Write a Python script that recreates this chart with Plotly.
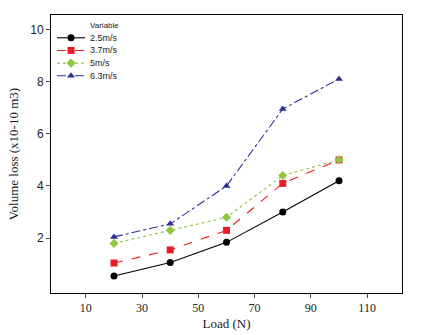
import plotly.graph_objects as go

load = [20, 40, 60, 80, 100]
names = ["2.5m/s", "3.7m/s", "5m/s", "6.3m/s"]
v25 = [0.55, 1.07, 1.84, 3.0, 4.2]
v37 = [1.05, 1.55, 2.3, 4.1, 5.0]
v5 = [1.8, 2.3, 2.8, 4.4, 5.0]
v63 = [2.05, 2.55, 4.0, 6.95, 8.1]
x_ticks = [10, 30, 50, 70, 90, 110]
y_ticks = [2, 4, 6, 8, 10]

series = [v25, v37, v5, v63]
colors = ["#000000", "#ed1c24", "#8dc63f", "#2e3192"]
dashes = ["solid", "dash", "dot", "dashdot"]
symbols = ["circle", "square", "diamond", "triangle-up"]

fig = go.Figure()
for n, v, c, d, s in zip(names, series, colors, dashes, symbols):
    fig.add_trace(go.Scatter(x=load, y=v, name=n, mode="lines+markers",
                             line=dict(color=c, dash=d, width=1.1),
                             marker=dict(symbol=s, size=7, color=c),
                             showlegend=False))

# compact manual legend (in plot-area fractions)
leg_x0, leg_x1, leg_txt = 0.017, 0.097, 0.105
leg_top, leg_step, title_y = 0.918, 0.0455, 0.962
for i, (n, c, d, s) in enumerate(zip(names, colors, dashes, symbols)):
    yy = leg_top - i * leg_step
    fig.add_shape(type="line", xref="paper", yref="paper", x0=leg_x0, x1=leg_x1,
                  y0=yy, y1=yy, line=dict(color=c, dash=d, width=1.1))
    fig.add_trace(go.Scatter(x=[(leg_x0 + leg_x1) / 2], y=[yy], xaxis="x2", yaxis="y2",
                             mode="markers", marker=dict(symbol=s, size=7, color=c),
                             showlegend=False, hoverinfo="skip"))
    fig.add_annotation(x=leg_txt, y=yy, xref="paper", yref="paper", text=n,
                       showarrow=False, xanchor="left", yanchor="middle",
                       font=dict(size=9, family="Liberation Sans", color="#222"))
fig.add_annotation(x=leg_txt, y=title_y, xref="paper", yref="paper", text="Variable",
                   showarrow=False, xanchor="left", yanchor="middle",
                   font=dict(size=8, family="Liberation Sans", color="#222"))

fig.update_layout(
    width=429, height=335,
    margin=dict(l=51, r=27, t=15, b=42),
    plot_bgcolor="white", paper_bgcolor="white",
    showlegend=False,
    xaxis=dict(range=[-2.4, 122.4], tickvals=x_ticks, ticks="outside", ticklen=4,
               showgrid=False, zeroline=False, showline=True, linecolor="black",
               linewidth=1, mirror=True, automargin=False,
               tickfont=dict(family="Liberation Serif", size=12, color="#222"),
               title=dict(text="Load (N)", font=dict(family="Liberation Serif", size=13, color="#222"),
                          standoff=4)),
    yaxis=dict(range=[-0.1, 10.55], tickvals=y_ticks, ticks="outside", ticklen=4,
               showgrid=False, zeroline=False, showline=True, linecolor="black",
               linewidth=1, mirror=True, automargin=False,
               tickfont=dict(family="Liberation Sans", size=12, color="#222"),
               title=dict(text="Volume loss (x10-10 m3)",
                          font=dict(family="Liberation Serif", size=13, color="#222"),
                          standoff=8)),
    xaxis2=dict(range=[0, 1], overlaying="x", visible=False, fixedrange=True),
    yaxis2=dict(range=[0, 1], overlaying="y", visible=False, fixedrange=True),
)

fig.write_html("out.html")
